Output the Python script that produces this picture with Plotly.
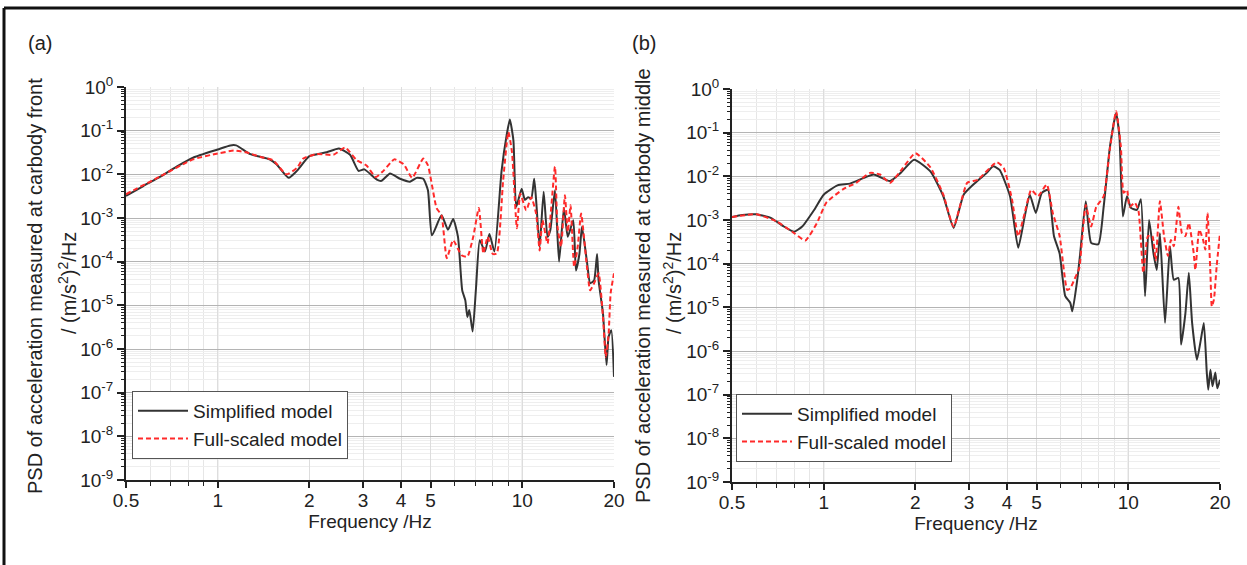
import plotly.graph_objects as go

W, H = 1247, 565

# ---------------- (a) carbody front ----------------
freq_a_simplified = [0.5, 0.57, 0.646, 0.733, 0.83, 1.0, 1.10, 1.15, 1.28, 1.48, 1.56, 1.71, 1.82, 2.0,
                     2.28, 2.5, 2.72, 2.9, 3.03, 3.33, 3.45, 3.68, 3.97, 4.28, 4.5, 4.73, 4.9, 5.05,
                     5.43, 5.7, 5.93, 6.15, 6.35, 6.5, 6.6, 6.7, 6.87, 7.05, 7.25, 7.54, 7.8, 8.1,
                     8.55, 8.9, 9.1, 9.35, 9.55, 9.95, 10.2, 10.45, 10.7, 10.94, 11.1, 11.4, 11.75,
                     12.1, 12.35, 12.8, 13.2, 13.7, 14.1, 14.7, 15.0, 15.4, 15.7, 16.3, 16.7, 17.2,
                     17.6, 17.8, 18.4, 18.9, 19.2, 19.6, 20.0]
psd_a_simplified = [3.2e-3, 5.4e-3, 8.7e-3, 1.5e-2, 2.4e-2, 3.7e-2, 4.6e-2, 4.6e-2, 2.9e-2, 2.2e-2, 1.7e-2,
                    8.3e-3, 1.2e-2, 2.6e-2, 3.2e-2, 3.9e-2, 2.8e-2, 1.2e-2, 1.3e-2, 7.6e-3, 7.1e-3,
                    1.05e-2, 7.9e-3, 6.8e-3, 8.3e-3, 7.9e-3, 4.3e-3, 4.0e-4, 1.15e-3, 5.4e-4, 9.5e-4,
                    3.7e-4, 2.2e-5, 1.3e-5, 5.4e-6, 7.8e-6, 2.5e-6, 2.6e-5, 3.1e-4, 1.7e-4, 4.3e-4,
                    1.7e-4, 1.2e-2, 8.5e-2, 1.8e-1, 6.0e-2, 1.8e-3, 4.7e-3, 2.6e-3, 3.0e-3, 2.8e-3,
                    7.9e-3, 2.6e-3, 2.2e-4, 4.0e-3, 3.7e-4, 5.2e-4, 4.3e-3, 1.0e-4, 1.7e-3, 3.7e-4,
                    8.9e-4, 6.3e-5, 1.5e-4, 6.3e-4, 1.0e-4, 3.2e-5, 3.7e-5, 1.5e-4, 3.7e-5, 6.5e-6,
                    4.3e-7, 1.9e-6, 2.7e-6, 2.3e-7]

freq_a_full = [0.5, 0.646, 0.83, 1.0, 1.13, 1.24, 1.38, 1.52, 1.68, 1.82, 1.91, 2.11, 2.40, 2.62, 2.86,
               3.08, 3.3, 3.5, 3.8, 4.08, 4.35, 4.73, 4.9, 5.23, 5.43, 5.65, 5.93, 6.32, 6.6, 6.9, 7.2,
               7.45, 7.7, 8.0, 8.25, 8.65, 9.0, 9.25, 9.6, 9.85, 10.3, 10.7, 11.1, 11.4, 11.65, 12.1,
               12.8, 13.05, 13.4, 13.8, 14.1, 14.4, 14.8, 15.2, 15.6, 16.3, 16.7, 17.2, 17.8, 18.4,
               18.8, 19.2, 19.5, 20.0]
psd_a_full = [3.5e-3, 8.9e-3, 2.2e-2, 3.0e-2, 3.5e-2, 3.2e-2, 2.5e-2, 2.1e-2, 1.0e-2, 1.4e-2, 2.3e-2,
              2.9e-2, 2.8e-2, 4.1e-2, 2.1e-2, 1.6e-2, 8.7e-3, 1.2e-2, 2.2e-2, 1.7e-2, 8.3e-3, 2.3e-2,
              1.6e-2, 1.7e-3, 1.15e-3, 1.2e-4, 3.1e-4, 1.4e-4, 1.3e-4, 3.7e-4, 1.7e-3, 1.55e-4,
              3.7e-4, 1.5e-4, 1.55e-4, 7.2e-3, 9.3e-2, 3.2e-2, 5.8e-4, 3.6e-3, 1.5e-3, 3.0e-3,
              1.26e-3, 1.8e-4, 8.9e-4, 2.6e-4, 1.5e-2, 6.3e-4, 2.2e-4, 3.3e-3, 4.8e-4, 1.95e-3,
              7.6e-5, 2.2e-4, 1.26e-3, 7.6e-5, 2.2e-5, 3.2e-5, 5.4e-5, 5.4e-6, 6.6e-7, 2.2e-6,
              1.9e-5, 5.4e-5]

# ---------------- (b) carbody middle ----------------
freq_b_simplified = [0.5, 0.54, 0.60, 0.67, 0.74, 0.80, 0.85, 0.93, 1.0, 1.11, 1.22, 1.35, 1.46, 1.65,
                     1.79, 1.98, 2.24, 2.47, 2.67, 2.88, 3.1, 3.43, 3.6, 3.78, 4.09, 4.35, 4.57, 4.75,
                     4.97, 5.2, 5.45, 5.7, 5.95, 6.21, 6.45, 6.55, 6.8, 6.95, 7.25, 7.55, 7.98, 8.3,
                     8.71, 9.12, 9.35, 9.6, 9.9, 10.2, 10.67, 11.0, 11.35, 11.7, 12.1, 12.4, 12.7,
                     13.2, 13.7, 14.1, 14.6, 14.9, 15.4, 15.8, 16.2, 16.8, 17.3, 17.7, 18.1, 18.3,
                     18.6, 18.9, 19.3, 19.6, 20.0]
psd_b_simplified = [1.17e-3, 1.3e-3, 1.35e-3, 1.12e-3, 7.1e-4, 5.4e-4, 7.1e-4, 1.7e-3, 3.8e-3, 6.2e-3,
                    6.8e-3, 9.1e-3, 1.1e-2, 7.8e-3, 1.2e-2, 2.4e-2, 1.3e-2, 3.5e-3, 6.6e-4, 3.8e-3,
                    6.5e-3, 1.2e-2, 1.7e-2, 1.4e-2, 3.5e-3, 2.3e-4, 1.2e-3, 3.8e-3, 1.45e-3, 4.2e-3,
                    4.9e-3, 4.3e-4, 1.7e-4, 1.8e-5, 1.26e-5, 8.1e-6, 4.3e-5, 1.7e-4, 2.7e-3, 3.0e-4,
                    2.8e-4, 2.0e-3, 4.9e-2, 2.8e-1, 8.3e-2, 1.2e-3, 3.5e-3, 1.9e-3, 1.7e-3, 3.0e-3,
                    1.8e-5, 1.0e-3, 1.7e-4, 7.2e-5, 5.0e-4, 4.4e-6, 2.5e-4, 4.3e-5, 4.7e-5, 1.4e-6,
                    7.4e-6, 6.2e-5, 4.4e-6, 6.3e-7, 1.8e-6, 4.4e-6, 3.2e-7, 1.3e-7, 3.7e-7, 1.55e-7,
                    3.2e-7, 1.4e-7, 2.2e-7]

freq_b_full = [0.5, 0.60, 0.70, 0.80, 0.87, 0.95, 1.02, 1.16, 1.28, 1.42, 1.53, 1.65, 1.82, 2.0, 2.24,
               2.47, 2.67, 2.96, 3.2, 3.70, 3.9, 4.15, 4.35, 4.57, 4.8, 5.05, 5.4, 5.65, 5.95, 6.3,
               6.45, 6.65, 6.9, 7.05, 7.25, 7.55, 7.85, 8.3, 8.71, 9.12, 9.45, 9.65, 9.9, 10.1, 10.5,
               10.8, 11.2, 11.6, 12.0, 12.3, 12.7, 13.1, 13.5, 13.8, 14.1, 14.6, 15.0, 15.4, 15.8,
               16.4, 16.6, 17.1, 17.6, 17.9, 18.2, 18.6, 18.8, 19.1, 19.5, 20.0]
psd_b_full = [1.17e-3, 1.35e-3, 9.3e-4, 5.0e-4, 3.4e-4, 8.5e-4, 2.5e-3, 5.1e-3, 7.1e-3, 1.2e-2, 1.1e-2,
              7.1e-3, 1.55e-2, 3.4e-2, 1.6e-2, 3.8e-3, 7.1e-4, 7.1e-3, 8.3e-3, 2.1e-2, 1.55e-2, 3.0e-3,
              4.3e-4, 1.45e-3, 4.9e-3, 3.5e-3, 6.5e-3, 1.45e-3, 4.3e-4, 2.5e-5, 2.75e-5, 4.3e-5,
              7.9e-5, 3.5e-4, 2.2e-3, 7.1e-4, 2.0e-3, 3.5e-3, 4.5e-2, 3.1e-1, 4.9e-2, 4.2e-3,
              4.9e-3, 2.0e-3, 2.5e-3, 1.6e-3, 6.2e-5, 4.3e-4, 4.3e-4, 1.2e-4, 2.7e-3, 4.3e-4,
              1.5e-4, 3.5e-4, 2.5e-4, 2.0e-3, 5.0e-4, 4.3e-4, 8.5e-4, 1.7e-4, 7.2e-5, 6.0e-4,
              3.5e-4, 2.1e-4, 1.45e-3, 6.2e-5, 1.05e-5, 1.5e-5, 8.7e-5, 5.0e-4]

# ---------------- axis text ----------------
x_tickvals = [0.5, 1, 2, 3, 4, 5, 10, 20]
x_ticktext = ["0.5", "1", "2", "3", "4", "5", "10", "20"]
x_minor_ticks = [0.6, 0.7, 0.8, 0.9, 6, 7, 8, 9]
x_major_grid = [1, 10]
y_exponents = [0, -1, -2, -3, -4, -5, -6, -7, -8, -9]
legend_names = ["Simplified model", "Full-scaled model"]
panel_labels = ["(a)", "(b)"]
ytitle_line1 = ["PSD of acceleration measured at carbody front",
                "PSD of acceleration measured at carbody middle"]
ytitle_line2 = "/ (m/s<sup>2</sup>)<sup>2</sup>/Hz"
xtitle = "Frequency /Hz"

FONT = "Liberation Sans, Arial, Helvetica, sans-serif"
TXT = "#222222"

y_tickvals = [10.0 ** e for e in y_exponents]
y_ticktext = ["10<sup>%d</sup>" % e for e in y_exponents]
y_minor = [k * 10.0 ** e for e in range(-9, 0) for k in range(2, 10)]

fig = go.Figure()

black = dict(color="#333333", width=2)
red = dict(color="#ff2a2a", width=2, dash="5px,3px")

fig.add_trace(go.Scatter(x=freq_a_simplified, y=psd_a_simplified, mode="lines", name=legend_names[0],
                         line=dict(**black, shape="spline", smoothing=0.5), xaxis="x", yaxis="y",
                         legend="legend"))
fig.add_trace(go.Scatter(x=freq_a_full, y=psd_a_full, mode="lines", name=legend_names[1],
                         line=dict(**red, shape="spline", smoothing=0.5), xaxis="x", yaxis="y",
                         legend="legend"))
fig.add_trace(go.Scatter(x=freq_b_simplified, y=psd_b_simplified, mode="lines", name=legend_names[0],
                         line=dict(**black, shape="spline", smoothing=0.5), xaxis="x2", yaxis="y2",
                         legend="legend2"))
fig.add_trace(go.Scatter(x=freq_b_full, y=psd_b_full, mode="lines", name=legend_names[1],
                         line=dict(**red, shape="spline", smoothing=0.5), xaxis="x2", yaxis="y2",
                         legend="legend2"))

def xaxis(domain, anchor):
    return dict(type="log", domain=domain, anchor=anchor, range=[-0.30103, 1.30103],
                tickmode="array", tickvals=x_tickvals, ticktext=x_ticktext, tickangle=0,
                ticks="outside", ticklen=6, tickwidth=1.5, tickcolor="#222",
                showline=True, linecolor="#222", linewidth=2,
                showgrid=True, gridcolor="#dddddd", gridwidth=1,
                minor=dict(tickmode="array", tickvals=x_minor_ticks, ticks="outside", ticklen=4,
                           tickwidth=1.2, tickcolor="#222", showgrid=True, gridcolor="#e6e6e6"),
                tickfont=dict(family=FONT, size=19, color=TXT), ticklabelstandoff=-4,
                title=dict(text=xtitle, font=dict(family=FONT, size=19, color=TXT), standoff=4),
                automargin=False, zeroline=False, fixedrange=True)

def yaxis(domain, anchor):
    return dict(type="log", domain=domain, anchor=anchor, range=[-9, 0],
                tickmode="array", tickvals=y_tickvals, ticktext=y_ticktext,
                ticks="outside", ticklen=7, tickwidth=1.5, tickcolor="#222",
                showline=True, linecolor="#222", linewidth=2,
                showgrid=True, gridcolor="#b4b4b4", gridwidth=1,
                minor=dict(tickmode="array", tickvals=y_minor, ticks="outside", ticklen=3,
                           tickwidth=1, tickcolor="#222", showgrid=True, gridcolor="#eeeeee"),
                tickfont=dict(family=FONT, size=19, color=TXT),
                automargin=False, zeroline=False, fixedrange=True)

fig.update_layout(
    width=W, height=H, margin=dict(l=0, r=0, t=0, b=0, autoexpand=False),
    paper_bgcolor="white", plot_bgcolor="white",
    xaxis=xaxis([126 / W, 614 / W], "y"),
    yaxis=yaxis([1 - 480 / H, 1 - 87 / H], "x"),
    xaxis2=xaxis([732 / W, 1220 / W], "y2"),
    yaxis2=yaxis([1 - 482 / H, 1 - 89 / H], "x2"),
    legend=dict(xref="paper", yref="paper", x=132 / W, y=1 - 391 / H,
                xanchor="left", yanchor="top", bgcolor="white", bordercolor="#555",
                borderwidth=1, font=dict(family=FONT, size=19, color=TXT), itemwidth=50,
                tracegroupgap=0),
    legend2=dict(xref="paper", yref="paper", x=736 / W, y=1 - 394 / H,
                 xanchor="left", yanchor="top", bgcolor="white", bordercolor="#555",
                 borderwidth=1, font=dict(family=FONT, size=19, color=TXT), itemwidth=50,
                 tracegroupgap=0),
    showlegend=True,
)

# darker vertical grid at decades
for xa, ya in (("x", "y"), ("x2", "y2")):
    for xv in x_major_grid:
        fig.add_shape(type="line", xref=xa, yref=ya + " domain", x0=xv, x1=xv, y0=0, y1=1,
                      line=dict(color="#b4b4b4", width=1), layer="below")

# outer frame (top and left edges)
fig.add_shape(type="line", xref="paper", yref="paper", x0=4 / W, x1=1, y0=1 - 8 / H, y1=1 - 8 / H,
              line=dict(color="#111", width=3))
fig.add_shape(type="line", xref="paper", yref="paper", x0=4 / W, x1=4 / W, y0=0, y1=1 - 8 / H,
              line=dict(color="#111", width=3))

ann = []
for lbl, cx in zip(panel_labels, [40, 644]):
    ann.append(dict(text=lbl, x=cx / W, y=1 - 43 / H, xref="paper", yref="paper", showarrow=False,
                    xanchor="center", yanchor="middle", font=dict(family=FONT, size=20, color=TXT)))
for t1, c1, c2, cy in zip(ytitle_line1, [35, 643], [67, 672], [286, 285]):
    ann.append(dict(text=t1, x=c1 / W, y=1 - cy / H, xref="paper", yref="paper", showarrow=False,
                    textangle=-90, xanchor="center", yanchor="middle",
                    font=dict(family=FONT, size=20, color=TXT)))
    ann.append(dict(text=ytitle_line2, x=c2 / W, y=1 - 283 / H, xref="paper", yref="paper",
                    showarrow=False, textangle=-90, xanchor="center", yanchor="middle",
                    font=dict(family=FONT, size=20, color=TXT)))
fig.update_layout(annotations=ann)

fig.write_html("out.html")
